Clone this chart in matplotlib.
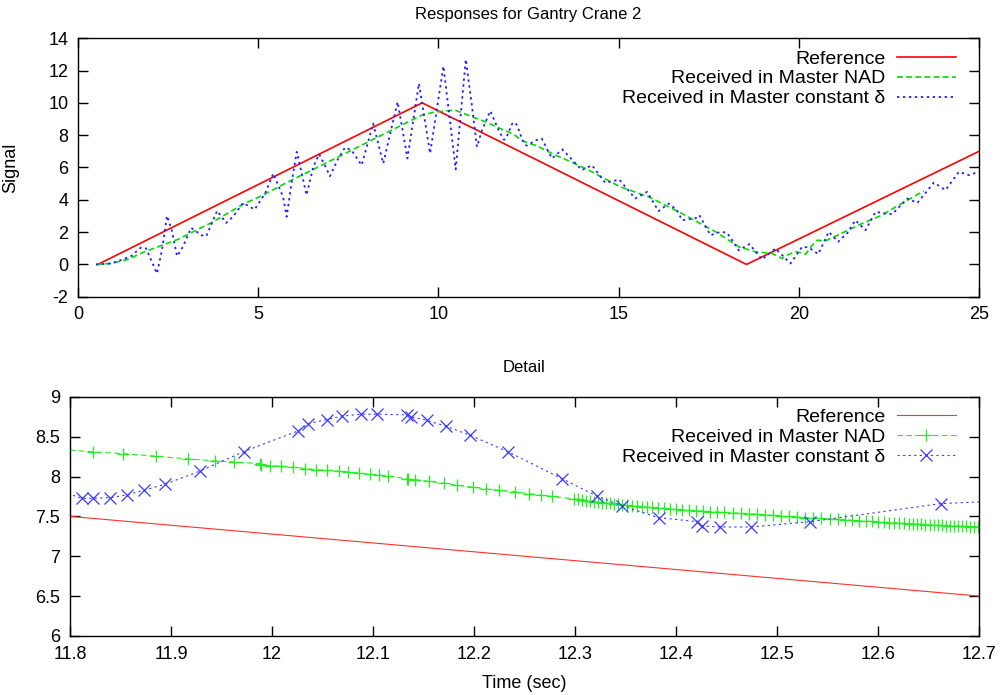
import matplotlib
matplotlib.use("Agg")
import matplotlib.pyplot as plt
from matplotlib.ticker import FormatStrFormatter

plt.rcParams['font.family'] = ['Liberation Sans', 'DejaVu Sans']
plt.rcParams['axes.unicode_minus'] = False

# reference trajectory (corners of the triangle wave)
ref_t = [0.55, 9.55, 18.55, 25.0]
ref_y = [0.0, 10.0, 0.0, 7.0]

# received in master NAD
nad_t = [0.50, 0.92, 1.38, 1.84, 2.77, 3.69, 4.62, 5.13, 5.83, 6.76, 7.69, 8.61,
         9.54, 9.91, 10.46, 11.30,
         11.823, 11.852, 11.885, 11.917, 11.944, 11.962, 11.988, 11.989, 11.998,
         12.009, 12.021, 12.033, 12.044, 12.054, 12.066, 12.075, 12.086, 12.097,
         12.106, 12.115, 12.134, 12.135, 12.142, 12.155, 12.170, 12.183, 12.199,
         12.212, 12.225, 12.241, 12.254, 12.266, 12.277,
         12.299, 12.303, 12.307, 12.311, 12.315, 12.319, 12.323, 12.327, 12.331,
         12.335, 12.339, 12.343, 12.347, 12.351, 12.356, 12.361, 12.366, 12.371,
         12.376, 12.382, 12.388, 12.394, 12.400, 12.406, 12.413, 12.420, 12.427,
         12.434, 12.441, 12.448, 12.456, 12.464, 12.472, 12.480, 12.488, 12.496,
         12.504, 12.512, 12.520, 12.528, 12.536, 12.544, 12.552, 12.560, 12.567,
         12.574, 12.581, 12.588, 12.594, 12.600, 12.606, 12.611, 12.616, 12.621,
         12.626, 12.631, 12.635, 12.639, 12.643, 12.647, 12.651, 12.655, 12.659,
         12.663, 12.667, 12.671, 12.675, 12.679, 12.683, 12.687, 12.691, 12.695,
         12.699,
         13.15, 14.08, 15.05, 15.84, 16.76, 17.69, 18.34, 18.80, 19.26, 19.54,
         19.68, 19.91, 20.19, 20.37, 20.51, 20.74, 21.02, 21.76, 22.31, 22.69,
         23.10, 23.47]
nad_y = [0.00, 0.06, 0.31, 0.78, 1.55, 2.57, 3.77, 4.29, 5.11, 6.14, 7.18, 8.21,
         9.24, 9.44, 9.55, 8.83,
         8.309, 8.288, 8.255, 8.221, 8.196, 8.183, 8.162, 8.146, 8.137,
         8.129, 8.117, 8.100, 8.087, 8.079, 8.067, 8.058, 8.045, 8.029,
         8.020, 8.004, 7.974, 7.966, 7.961, 7.941, 7.916, 7.891, 7.866,
         7.844, 7.828, 7.807, 7.785, 7.765, 7.750,
         7.720, 7.713, 7.706, 7.699, 7.693, 7.686, 7.680, 7.674, 7.668,
         7.662, 7.656, 7.650, 7.645, 7.639, 7.633, 7.628, 7.622, 7.617,
         7.612, 7.605, 7.599, 7.592, 7.587, 7.582, 7.577, 7.571, 7.566,
         7.561, 7.557, 7.552, 7.546, 7.540, 7.533, 7.526, 7.519, 7.513,
         7.506, 7.499, 7.492, 7.486, 7.480, 7.474, 7.467, 7.461, 7.456,
         7.451, 7.446, 7.441, 7.437, 7.432, 7.427, 7.423, 7.419, 7.415,
         7.411, 7.408, 7.405, 7.402, 7.399, 7.396, 7.394, 7.391, 7.389,
         7.386, 7.384, 7.382, 7.380, 7.378, 7.376, 7.374, 7.372, 7.371,
         7.370,
         6.87, 5.94, 4.80, 4.18, 3.15, 2.02, 1.09, 0.78, 0.68, 0.37,
         0.58, 0.80, 0.64, 1.19, 1.50, 1.46, 1.75, 2.54, 3.05, 3.56,
         4.08, 4.55]

# received in master with constant delta
cd_t = [0.50, 0.92, 1.19, 1.47, 1.75, 1.89, 2.03, 2.19, 2.33, 2.47, 2.60, 2.75,
        2.91, 3.14, 3.42, 3.56, 3.86, 4.11, 4.30, 4.58, 4.90, 5.19, 5.42, 5.69,
        5.79, 5.93, 6.07, 6.21, 6.34, 6.53, 6.69, 6.85, 6.99, 7.22, 7.41, 7.59,
        7.87, 8.19, 8.47, 8.87, 9.14, 9.46, 9.77, 10.14, 10.33, 10.48, 10.76,
        10.91, 11.07, 11.21, 11.44, 11.67,
        11.812, 11.823, 11.840, 11.856, 11.873, 11.894, 11.929, 11.972, 12.026,
        12.036, 12.054, 12.069, 12.088, 12.104, 12.134, 12.138, 12.153, 12.172,
        12.196, 12.234, 12.287, 12.322, 12.347, 12.383, 12.421, 12.426, 12.444,
        12.474, 12.533, 12.662,
        12.87, 13.15, 13.44, 13.98, 14.26, 14.63, 15.02, 15.46, 15.79, 16.11,
        16.39, 16.62, 16.76, 17.13, 17.24, 17.55, 17.83, 18.01, 18.15, 18.33,
        18.63, 18.98, 19.35, 19.77, 20.09, 20.28, 20.54, 20.83, 21.09, 21.34,
        21.57, 21.85, 22.13, 22.41, 22.59, 23.01, 23.29, 23.75, 24.07, 24.44,
        24.72, 25.00]
cd_y = [0.00, 0.06, 0.27, 0.51, 1.05, 0.99, 0.27, -0.56, 0.88, 3.01, 2.12, 0.51,
        1.09, 2.27, 1.81, 1.75, 3.32, 2.57, 2.95, 3.81, 3.40, 4.39, 5.63, 4.18,
        2.95, 5.11, 6.97, 5.63, 4.29, 6.04, 6.83, 6.14, 5.46, 6.56, 7.24, 7.07,
        6.14, 8.72, 6.25, 10.06, 6.56, 11.20, 6.87, 12.27, 8.72, 5.88, 12.69,
        10.17, 7.28, 8.31, 9.50, 8.31,
        7.727, 7.727, 7.735, 7.769, 7.828, 7.903, 8.070, 8.313, 8.573,
        8.665, 8.715, 8.757, 8.782, 8.782, 8.774, 8.749, 8.707, 8.632,
        8.519, 8.309, 7.974, 7.752, 7.631, 7.484, 7.434, 7.379, 7.367,
        7.367, 7.434, 7.660,
        7.78, 6.56, 7.12, 5.84, 6.14, 5.05, 5.25, 4.08, 4.49, 3.30,
        3.77, 3.36, 2.74, 2.85, 3.05, 1.81, 2.02, 1.96, 1.50, 0.88,
        1.26, 0.31, 0.99, 0.06, 1.09, 1.05, 0.64, 2.02, 1.40, 1.92,
        2.74, 2.12, 3.26, 3.15, 3.11, 4.08, 3.81, 5.07, 4.60, 5.73,
        5.53, 5.73]

labels = ['Reference', 'Received in Master NAD', 'Received in Master constant δ']

fig = plt.figure(figsize=(10, 6.95), dpi=100)
ax1 = fig.add_axes([0.078, 0.573, 0.901, 0.372])
ax2 = fig.add_axes([0.070, 0.085, 0.909, 0.344])

# top panel
ax1.plot(ref_t, ref_y, color='#ff0000', lw=1.2, label=labels[0])
ax1.plot(nad_t, nad_y, color='#00dd00', lw=1.2, dashes=(3.5, 2), label=labels[1])
ax1.plot(cd_t, cd_y, color='#2020ff', lw=1.3, dashes=(1.3, 2.0), label=labels[2])
ax1.set_xlim(0, 25)
ax1.set_ylim(-2, 14)
ax1.set_xticks(range(0, 26, 5))
ax1.set_yticks(range(-2, 15, 2))
ax1.set_ylabel('Signal', fontsize=13, labelpad=21)
ax1.set_title('Responses for Gantry Crane 2', fontsize=12, pad=14)

# detail panel
ax2.plot(ref_t, ref_y, color='#ff3030', lw=0.8, label=labels[0])
ax2.plot(nad_t, nad_y, color='#22ee22', lw=0.8, dashes=(5, 3),
         marker='+', ms=9, mew=0.9, label=labels[1])
ax2.plot(cd_t, cd_y, color='#3a3aff', lw=0.8, dashes=(2, 3),
         marker='x', ms=8, mew=0.9, label=labels[2])
ax2.set_xlim(11.8, 12.7)
ax2.set_ylim(6, 9)
ax2.set_xticks([11.8, 11.9, 12.0, 12.1, 12.2, 12.3, 12.4, 12.5, 12.6, 12.7])
ax2.set_yticks([6, 6.5, 7, 7.5, 8, 8.5, 9])
ax2.xaxis.set_major_formatter(FormatStrFormatter('%g'))
ax2.yaxis.set_major_formatter(FormatStrFormatter('%g'))
ax2.set_xlabel('Time (sec)', fontsize=13, labelpad=9)
ax2.set_title('Detail', fontsize=12, pad=18)

for ax in (ax1, ax2):
    ax.tick_params(direction='in', top=True, right=True, length=7, width=1,
                   labelsize=13, pad=7)
    for s in ax.spines.values():
        s.set_linewidth(1.0)
    leg = ax.legend(loc='upper right', frameon=False, markerfirst=False,
                    fontsize=14, handlelength=3.0, labelspacing=0.12,
                    handletextpad=0.6, borderaxespad=0.2, numpoints=1,
                    bbox_to_anchor=(0.987, 1.0))

fig.savefig('out.png', dpi=100)
